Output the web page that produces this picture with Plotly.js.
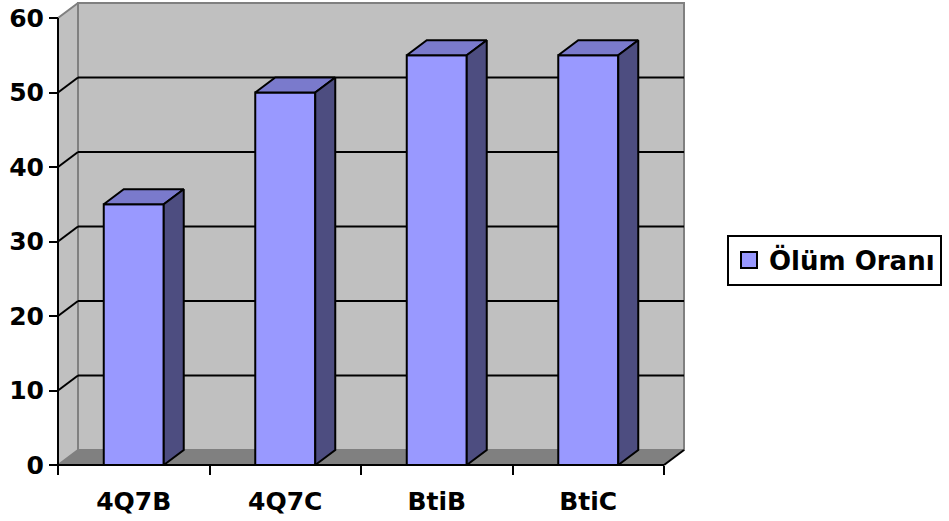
<!DOCTYPE html>
<html><head><meta charset="utf-8">
<script src="https://cdn.plot.ly/plotly-3.0.1.min.js"></script>
<style>html,body{margin:0;padding:0;background:#fff}#chart{width:949px;height:521px}</style>
</head><body><div id="chart"></div>
<script>
// ---- data ----
const categories = ['4Q7B', '4Q7C', 'BtiB', 'BtiC'];
const values = [35, 50, 55, 55];
const seriesName = 'Ölüm Oranı';
const yTicks = [0, 10, 20, 30, 40, 50, 60];

// ---- 3D geometry in axis units ----
const Y_MAX = 60;
const N = categories.length;
const DX = 0.132, DY = 2.013;   // depth offset
const HALF = 0.198;             // half bar width (category units)

const FRONT = '#9999FF', TOP = '#7A7ACC', SIDE = '#4D4D80';
const WALL = '#C0C0C0', WALL_EDGE = '#808080', FLOOR = '#808080';

function poly(pts, fill, lineColor, lw) {
  return {
    type: 'scatter', mode: 'lines', fill: 'toself', fillcolor: fill,
    x: pts.map(p => p[0]).concat([pts[0][0]]),
    y: pts.map(p => p[1]).concat([pts[0][1]]),
    line: {color: lineColor, width: lw},
    hoverinfo: 'skip', showlegend: false
  };
}
function segs(list, color, lw) {
  const x = [], y = [];
  list.forEach(s => { x.push(s[0][0], s[1][0], null); y.push(s[0][1], s[1][1], null); });
  return {type: 'scatter', mode: 'lines', x, y, line: {color, width: lw},
          hoverinfo: 'skip', showlegend: false, connectgaps: false};
}

const traces = [];
// floor
traces.push(poly([[0, 0], [N, 0], [N + DX, DY], [DX, DY]], FLOOR, FLOOR, 1));
// left wall
traces.push(poly([[0, 0], [DX, DY], [DX, Y_MAX + DY], [0, Y_MAX]], WALL, WALL_EDGE, 2));
// back wall
traces.push(poly([[DX, DY], [N + DX, DY], [N + DX, Y_MAX + DY], [DX, Y_MAX + DY]], WALL, WALL_EDGE, 2));
// gridlines
const grid = [];
yTicks.filter(v => v > 0 && v < Y_MAX).forEach(v => {
  grid.push([[DX, v + DY], [N + DX, v + DY]]);
  grid.push([[0, v], [DX, v + DY]]);
});
traces.push(segs(grid, '#000000', 2));
// front axis edges
traces.push(segs([[[0, 0], [0, Y_MAX]], [[0, 0], [N, 0]], [[N, 0], [N + DX, DY]]], '#000000', 2));

// bars
values.forEach((v, i) => {
  const c = i + 0.5, l = c - HALF, r = c + HALF;
  traces.push(poly([[l, 0], [r, 0], [r, v], [l, v]], FRONT, '#000000', 2));
  traces.push(poly([[l, v], [r, v], [r + DX, v + DY], [l + DX, v + DY]], TOP, '#000000', 2));
  traces.push(poly([[r, 0], [r + DX, DY], [r + DX, v + DY], [r, v]], SIDE, '#000000', 2));
});

// legend entry
traces.push({type: 'scatter', mode: 'markers', x: [null], y: [null], name: seriesName,
  marker: {symbol: 'square', size: 16, color: FRONT, line: {color: '#000000', width: 2}},
  showlegend: true, hoverinfo: 'skip'});

const font = {family: 'DejaVu Sans, Arial, sans-serif', size: 25, weight: 'bold', color: '#000000'};
const legFont = {family: 'DejaVu Sans, Arial, sans-serif', size: 26, weight: 'bold', color: '#000000'};

const layout = {
  width: 949, height: 521,
  margin: {l: 48, r: 255, t: 0, b: 49, autoexpand: false},
  paper_bgcolor: '#FFFFFF', plot_bgcolor: 'rgba(0,0,0,0)',
  showlegend: true,
  xaxis: {
    range: [-0.066, 4.198], showgrid: false, zeroline: false, showline: false,
    tickmode: 'array', tickvals: categories.map((_, i) => i + 0.5), ticktext: categories,
    ticks: 'outside', ticklen: 14, tickcolor: 'rgba(0,0,0,0)', tickfont: font,
    anchor: 'free', position: 0.01483, fixedrange: true, automargin: false,
    minor: {tickmode: 'array', tickvals: categories.map((_, i) => i).concat([N]),
            ticks: 'outside', ticklen: 9, tickwidth: 2, tickcolor: '#000000', showgrid: false}
  },
  yaxis: {
    range: [-0.9396, 62.416], showgrid: false, zeroline: false, showline: false,
    tickmode: 'array', tickvals: yTicks, ticks: 'outside', ticklen: 9, tickwidth: 2,
    tickcolor: '#000000', tickfont: font, anchor: 'free', position: 0.01548, fixedrange: true,
    automargin: false
  },
  legend: {
    x: 1.0511, xanchor: 'left', y: 0.449, yanchor: 'middle',
    bordercolor: '#000000', borderwidth: 2, bgcolor: '#FFFFFF', font: legFont
  }
};

Plotly.newPlot('chart', traces, layout, {displayModeBar: false, staticPlot: true});
</script></body></html>
